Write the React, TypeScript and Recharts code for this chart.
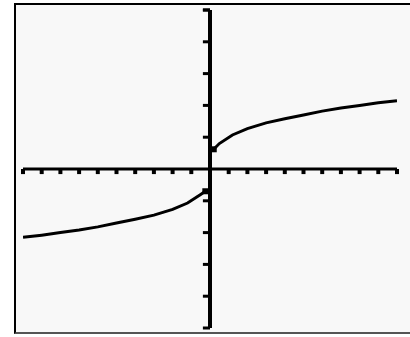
import React from 'react';
import { LineChart, Line, XAxis, YAxis, ReferenceLine } from 'recharts';

// branch right of the y axis
const rightX = [0.2, 0.5, 1.2, 2, 3, 4, 5, 6, 7, 8, 9, 10];
const rightY = [0.62, 0.8, 1.07, 1.27, 1.45, 1.58, 1.7, 1.82, 1.92, 2.0, 2.08, 2.15];

// branch left of the y axis
const leftX = [-10, -9, -8, -7, -6, -5, -4, -3, -2, -1.2, -0.5, -0.25];
const leftY = [-2.15, -2.08, -2.0, -1.92, -1.82, -1.7, -1.58, -1.45, -1.27, -1.07, -0.8, -0.7];

const xTicks = [-10, -9, -8, -7, -6, -5, -4, -3, -2, -1, 1, 2, 3, 4, 5, 6, 7, 8, 9, 10];
const yTicks = [-5, -4, -3, -2, -1, 1, 2, 3, 4, 5];

const rightData = rightX.map((x, i) => ({ x, y: rightY[i] }));
const leftData = leftX.map((x, i) => ({ x, y: leftY[i] }));

// small block where each branch meets the axis
const endDot = (which: number) => (props: any) => {
    const { cx, cy, index } = props;
    if (index !== which) return <g key={index} />;
    return <rect key={index} x={cx - 3} y={cy - 3} width={6} height={6} fill="#000" />;
};

export default function App() {
    return (
        <div style={{ position: 'absolute', left: 0, top: 0, width: 410, height: 337, background: '#fff' }}>
            <div
                style={{
                    position: 'absolute',
                    left: 14,
                    top: 3,
                    width: 396,
                    height: 331,
                    borderLeft: '2px solid #000',
                    borderTop: '2px solid #000',
                    borderBottom: '2px solid #555',
                    background: '#f8f8f8',
                    boxSizing: 'border-box',
                }}
            />
            <div style={{ position: 'absolute', left: 0, top: 0 }}>
                <LineChart width={410} height={337} margin={{ top: 10, right: 13, bottom: 9, left: 23 }}>
                    <XAxis type="number" dataKey="x" domain={[-10, 10]} hide allowDataOverflow />
                    <YAxis type="number" dataKey="y" domain={[-5, 5]} hide allowDataOverflow />
                    <ReferenceLine x={0} stroke="#000" strokeWidth={4} />
                    <ReferenceLine y={0} stroke="#000" strokeWidth={3} />
                    {yTicks.map((t) => (
                        <ReferenceLine
                            key={'y' + t}
                            segment={[{ x: -0.38, y: t }, { x: 0, y: t }]}
                            stroke="#000"
                            strokeWidth={3}
                        />
                    ))}
                    <ReferenceLine segment={[{ x: -0.38, y: 5 }, { x: 0, y: 5 }]} stroke="#000" strokeWidth={3} />
                    {xTicks.map((t) => (
                        <ReferenceLine
                            key={'x' + t}
                            segment={[{ x: t, y: 0 }, { x: t, y: -0.16 }]}
                            stroke="#000"
                            strokeWidth={4}
                        />
                    ))}
                    <Line
                        data={leftData}
                        dataKey="y"
                        type="linear"
                        stroke="#000"
                        strokeWidth={3}
                        dot={endDot(leftData.length - 1)}
                        isAnimationActive={false}
                    />
                    <Line
                        data={rightData}
                        dataKey="y"
                        type="linear"
                        stroke="#000"
                        strokeWidth={3}
                        dot={endDot(0)}
                        isAnimationActive={false}
                    />
                </LineChart>
            </div>
        </div>
    );
}
